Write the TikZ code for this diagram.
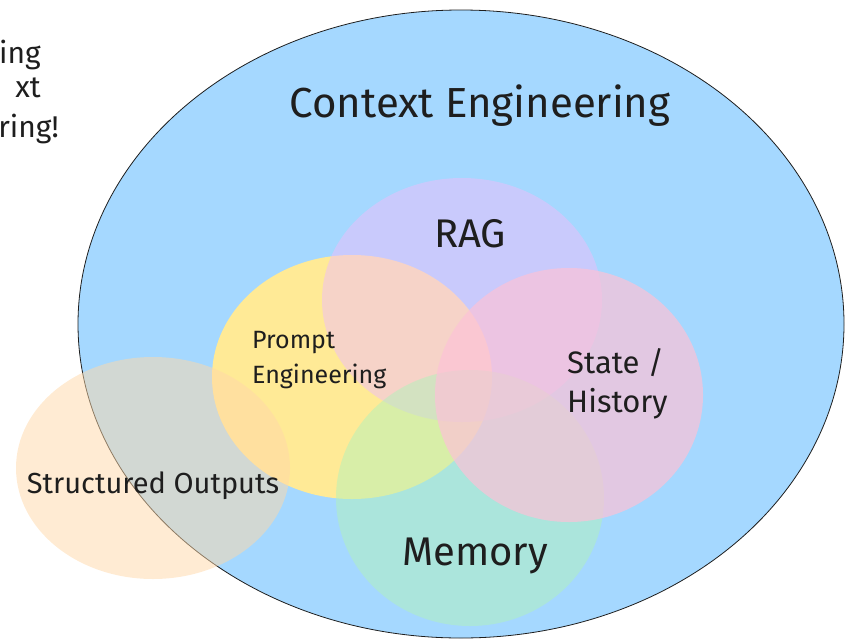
\documentclass[tikz,border=0pt]{standalone}
\usepackage{fontspec}
\setmainfont{Fira Sans}
\usepackage{tikz}
\usetikzlibrary{positioning}

\definecolor{ink}{HTML}{1E1E1E}
\definecolor{ctxblue}{HTML}{A5D8FF}
\definecolor{promptyellow}{HTML}{FFEA96}
\definecolor{raggrape}{HTML}{EEBEFA}
\definecolor{memgreen}{HTML}{B2F2BB}
\definecolor{statepink}{HTML}{FCC2D7}
\definecolor{outorange}{HTML}{FFD8A8}

\begin{document}
\begin{tikzpicture}[x=1pt, y=-1pt,
    blob/.style={draw=none, fill opacity=0.5},
    lbl/.style={text=ink, inner sep=0pt}]

    \useasboundingbox (0,0) rectangle (845,640);

    % outer set
    \fill[ctxblue, draw=ink, line width=0.8pt] (461,324) ellipse [x radius=383, y radius=314];

    % inner sets
    \fill[promptyellow] (352,377) ellipse [x radius=140, y radius=122];
    \fill[raggrape, blob] (462,300) ellipse [x radius=140, y radius=122];
    \fill[memgreen, blob] (470,498) ellipse [x radius=134, y radius=128];
    \fill[statepink, blob, fill opacity=0.7] (569,395) ellipse [x radius=134, y radius=127];
    \fill[outorange, blob] (153,468) ellipse [x radius=137, y radius=111];

    % labels (base of a two-line node is its last line)
    \node[lbl, anchor=base, font=\fontsize{42}{50}\selectfont] (title) at (480,117) {Context Engineering};
    \node[lbl, anchor=base, font=\fontsize{40}{48}\selectfont] (rag) at (470,247) {RAG};
    \node[lbl, anchor=base west, align=left, font=\fontsize{25}{35}\selectfont] (prompt) at (252,383) {Prompt\\Engineering};
    \node[lbl, anchor=base west, align=left, font=\fontsize{31}{39}\selectfont] (state) at (567,412) {State /\\History};
    \node[lbl, anchor=base, font=\fontsize{40}{48}\selectfont] (memory) at (475,565) {Memory};
    \node[lbl, anchor=base, font=\fontsize{29}{35}\selectfont] (structured) at (153,493) {Structured Outputs};

    % cut-off note at the top left
    \node[lbl, anchor=base east, font=\fontsize{30}{36}\selectfont] (note1) at (41,63) {ing};
    \node[lbl, anchor=base east, font=\fontsize{30}{36}\selectfont] (note2) at (41,97) {xt};
    \node[lbl, anchor=base east, font=\fontsize{30}{36}\selectfont] (note3) at (59,137) {ring!};
\end{tikzpicture}
\end{document}
